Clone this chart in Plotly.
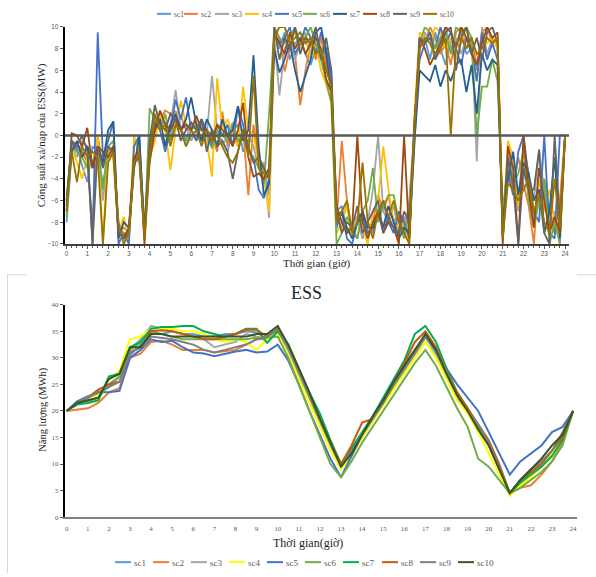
import plotly.graph_objects as go

W, H = 596, 577

names = ["sc1", "sc2", "sc3", "sc4", "sc5", "sc6", "sc7", "sc8", "sc9", "sc10"]

# time axes (15-min steps for power, 30-min steps for energy)
t_power = [i * 0.25 for i in range(97)]
t_energy = [i * 0.5 for i in range(49)]

# ---- ESS charge/discharge power (MW) ----
p_sc1 = [-8, -1.5, -1, -2.8, -4.3, -1, -1.5, -4.5, -1.5, -1, -8.5, -9, -9.5, -2.5, -1.5, -8.5, -1,
         1.5, 0.5, 1.2, -0.5, 2, 0.8, -0.5, 1.2, 0.5, 1.5, -0.8, 0.5, 0.2, -0.5, -1.5, 0.5, 1, -1.5, -0.5, 0.5, -2, -3, -5.5,
         9.5, 8, 9.5, 7, 8.5, 9, 7.5, 6.5, 8, 9, 7, 5,
         -7, -6.5, -9, -8, -7.5, -9.5, -8, -9, -7, -8.5, -6.5, -8, -9, -7.5, -9.5, -1,
         8, 9, 7, 9.5, 8, 6.5, 9, 8.5, 9.5, 7.5, 8, 6, 9, 7, 9, 8.5,
         -9, -2.5, -3, -6, -1, -3.5, -8, -5.5, -4, -7, -9, -8.5, 0]
p_sc2 = [-6.5, -0.5, -1, -1.5, -2.5, -8, 0, -3, -1, -2, -9, -8.5, -9, -3, -1, -9, -2,
         0.5, 1.5, 2.3, 2, 2.2, 1.8, 0.5, 0.5, -0.5, 1, 0.5, 0, -1.5, 2.2, -1, 0.5, -1, 0.5, -5.5, 1, -2, -3.5, -4,
         10, 9, 5.9, 8, 7.5, 2.8, 6, 8.5, 7, 9, 6.5, 4.5,
         -8, -0.5, -6, -9, -9.5, -7, -9, -8, -5.5, -7, -5.5, -8, -7, -9, -6, 0.5,
         9, 8.5, 10, 9, 7.5, 8.5, 6.5, 9.5, 10, 8, 9, 6.5, 9.5, 10, 8.5, 9,
         -8, -3, -5, -2, -4.5, -6.5, -10, -3, -5, -7, -9, -6, 0]
p_sc3 = [-6, -1, -2, -0.5, -1, -3, -0.5, -6, -2, -1.5, -8, -9.5, -8.5, -2, -2.5, -9, -0.5,
         1, 2, 0.5, 1, 4.2, 0.5, 1.2, -0.5, 0.5, 1, 0, 5.5, 0.5, -1, 0, 1.2, -1, 0.5, 0, -1, -3, -2.5, -7.6,
         9, 3.7, 8, 9, 7, 8.5, 9.5, 7.5, 9, 8, 8, 5,
         -7.5, -8.5, -6, -9, -7.5, -9.5, -8, -5, 0, -7, -8, -6.5, -9, -8, -7, 1,
         8, 9.5, 8.5, 7, 9, 10, 8, 9, 7.5, 9, 9, -2.4, 10, 7.5, 9, 8,
         -8.5, -1.5, -4, -7, -3.5, -5, -6, -1.3, -5, -9, -7, -10, 0]
p_sc4 = [-5.5, -1, -2.5, -4, -2, -3, 0, -10, -1.5, -2, -9, -7.5, -9.5, 0, -2, -8, -2,
         -0.5, 2, 0.5, -3.2, 0.5, 3.2, 1, 0.5, 1.2, 0.5, -0.5, -3.8, 5.3, 0.5, 1.5, 0, -1, 4.5, 0.5, 0, -2.5, -4, -7,
         9, 10, 10, 8.5, 9.5, 8, 9, 7, 8.5, 6, 4.7, 3,
         -9, -8, -6.5, -9.5, -7.5, -8.5, -10, -7, -6, -1, -5, -8, -8.5, -8, -10, 2,
         9.5, 9, 8.5, 10, 9.5, 8, 9, 7, 8.5, 10, 7.5, 5, 9.5, 8.5, 9, 8,
         -9, -0.5, -2, -6.5, -3, -5, -8.5, -4, -7, -5, -8, -9.5, 0]
p_sc5 = [-6.5, -0.5, -1.5, -2, -1, -10, 9.5, -2, -0.5, 1.3, -10, -9, -10, -1, 0, -9, -1,
         1.2, 0.5, -1.5, 0.5, 3.3, 1.5, 3.5, 0.5, -0.5, 1.5, 0.5, -1, 1, 0, 1, -1, 2.7, 1, -1.5, -2, -5, -5.8, -4,
         9.5, 8.5, 9, 10, 7.5, 8.5, 10, 9, 7.5, 9.5, 8, 5.5,
         -8.5, -7, -9.5, -10, -8, -7.5, -9, -8.5, -7.5, -6, -8, -9, -7, -8, -9.5, 1.5,
         7, 8.5, 9, 8, 10, 8.5, 9.5, 8, 6.5, 9, 8, 5, 9.5, 7, 8.5, 7,
         -9.5, -3.5, -5.5, -1.5, 0, -4, -7, -8, 0, -9, -9.5, 0, 0]
p_sc6 = [-7.5, -1, -1.5, -2, -3, -2.5, -1, -5, -1, -0.5, -8.5, -9, -9, -2, -1.5, -9.5, 2.5,
         1.5, 0.5, 2, -0.5, 1, 0.5, -1, 0.5, 1, -0.5, 0, -1.2, 0.5, 0, -0.5, 1, -0.5, 0, -1.5, -2, -3, -4.5, 2,
         10, 9, 8.5, 9, 10, 8.5, 9, 10, 8.5, 7, 5, 3,
         -10, -9, -7.5, -8.5, -9.5, -7, -6, -3, -8, -6.5, -5.5, -5.5, -8, -9.5, -7, 0,
         8.5, 10, 9.5, 8, 9, 9.5, 7.5, 10, 9.5, 10, 9, 0, 4.5, 4.5, 7, 5,
         -7, -2.5, -4.5, -3.5, -1.5, -6, -8.5, -6, -4, -10, -8, -10, 0]
p_sc7 = [-6, -1.5, -0.5, -2, -1, -3, -1, -2.5, 0.5, 1.3, -9.5, -8, -8.5, -3, 0, -9, -1.5,
         0.5, 1.5, -1, 1, 2, 0.5, 1.5, 3.5, 1, -0.5, 1.5, 0.5, -1, 1.5, 0, 0.5, 2.7, -0.5, 0.5, 7.4, -1, -5.5, -4.5,
         8, 5.8, 7, 8.5, 6, 4, 5.5, 7, 9.5, 10, 7.5, 4,
         -7.5, -7, -8.5, -9.5, -8, -7, -8.5, -8.5, -7, -8.5, -6.5, -8, -9.5, -8.5, -9, -0.5,
         6, 5.5, 5, 6.5, 4.5, 6, 5, 6.5, 7, 4, 6.5, 2, 7.5, 6, 7, 6.5,
         -8, -4, -1.5, -5.5, -2.5, -3.5, -6, -5, -9, -7, -2, -9.5, 0]
p_sc8 = [-7, 0.2, 0, -1, 0.7, -3, -1, -1.5, -2, -1, -9, -9.5, -8.5, -2, -1.5, -10, -2.5,
         0.5, 2.3, 1, 0.5, 1.5, 0.5, 1, 0.5, 1.8, 0.5, 0.5, -0.5, 1, 0.5, 0, -1, 0.5, 3, -2, -3.8, -3.5, -4, -3,
         9.5, 8.5, 7.5, 9.5, 8, 9, 7.5, 8.5, 9, 8, 5.2, 4,
         -6.5, -8, -9, -8.5, 0, -8, -9.5, -8, -7, -9, -8, -8.5, -10, 0, -9.5, 1,
         9, 8, 6.5, 7.5, 8.5, 10, 9.5, 8, 10, 9, 7.5, 6.5, 8.5, 10, 9, 9.5,
         -10, -1, -3, -10, 0, -5, -8.5, -3, -6, -9, -7.5, -9, 0]
p_sc9 = [-6, -0.5, -1, 0, -1.5, -10, -1, -3, -1, -1.5, -9, -9.5, -9, -2.5, -2, -9, -0.5,
         2.8, 1, 0.5, 2, 1.5, -0.5, 0.5, 1.2, 0.5, 1.5, -1.5, 0.5, -1, -0.5, -1.5, -4, -1.5, 0.5, -1, -2.5, -2, -3, -4,
         10, 7, 9, 8, 10, 7.5, 9, 8.5, 10, 7, 9, 6,
         -7, -9, -8, -8.5, -6.5, -9, -8, -7, -6, -9, -7.5, -8.5, -9, -7, -8, 0.5,
         9, 8.5, 9.5, 7, 8, 9.5, 10, 6, 9, 10, 7.5, 9, 7, 9.5, 10, 8.5,
         -9.5, -2, -4.5, -10, -3, -5, -5, -1.3, -9, -10, 0, -8, 0]
p_sc10 = [-7, -1.5, -4.3, -1, -2, -1.5, -2, -10, -2.5, -1.5, -8, -10, -9, -2.5, -1.5, -9.5, -2,
          2, 0.5, 1, -1, 1, 0.5, -1, 0, 0.5, -1, 0.5, -0.5, 0, -1, -2, -2.5, -1.5, 0.5, -2, 5.5, -3, -3.5, -4,
          9, 10, 10, 8.5, 9, 9.5, 8.5, 9, 7.5, 8, 6, 4.5,
          -8, -7, -6, -9, -8, -2.5, -8, -9.5, -7, -6, -7.5, -6, -8, -9, -10, 1,
          8, 9, 8.5, 7.5, 8, 9, 0, 8.5, 9, 8, 9, 7.5, 8, 9, 8.5, 9,
          -9.5, -4.4, -5, -6, -5, -4, -7, -5.5, -8, -9, -4, -8.5, 0]

# ---- ESS stored energy (MWh) ----
e_sc1 = [20, 21.8, 22.8, 23.2, 24.5, 26.5, 30.5, 32.5, 34.5,
         34.5, 35, 34.5, 34.5, 34, 34, 34.5, 34.5, 35, 34.8, 33.5, 35,
         31.5, 27, 22.5, 18, 13.5, 9.5,
         12, 15.5, 18.5, 21.5, 25, 28.5, 31.5, 34,
         31, 26.5, 22.5, 20, 17, 14, 9.5, 4.5,
         6.5, 8.5, 10, 12, 14.5, 20]
e_sc2 = [20, 20.2, 20.5, 21.5, 23.5, 24.3, 30, 30.8, 33,
         33.2, 32.5, 31.5, 31.5, 31.5, 31, 31.2, 31.5, 32.5, 33.5, 33.5, 35.5,
         32, 27.5, 23, 18.5, 14, 10,
         12.5, 15.5, 18.5, 21.5, 25, 28, 31, 34,
         31.5, 27, 22.5, 20, 16.5, 13.5, 9, 4.5,
         5.5, 6, 8, 10.5, 14, 20]
e_sc3 = [20, 21.5, 22, 22.5, 25, 26.5, 31.5, 33.5, 36,
         35.5, 35, 34.5, 34, 33.5, 32, 32.5, 33, 34.5, 34, 33.5, 35.5,
         31.5, 27, 22.5, 18, 13.5, 9.5,
         12, 15, 18, 21.5, 24.5, 27.5, 30.5, 33,
         30.5, 26.5, 22.5, 20, 17, 13.5, 9, 4.5,
         7, 8.5, 10.5, 12.5, 15.5, 20]
e_sc4 = [20, 21.5, 22.5, 23, 26, 27.5, 33.5, 34, 35.5,
         35.5, 35.5, 35, 35, 34.5, 33.5, 33, 33.5, 33, 31.5, 33.5, 34.5,
         30.5, 26, 21.5, 17, 12.5, 9,
         11.5, 15, 18, 21, 24, 27, 30, 33,
         30, 26, 22, 19.5, 16, 12, 8, 4,
         6, 7.5, 9.5, 12, 14.5, 20]
e_sc5 = [20, 21.8, 22.5, 23.5, 23.5, 23.8, 30, 31.5, 33.5,
         33, 33.2, 32, 31, 30.8, 30.3, 30.8, 31.2, 31.5, 31, 31.2, 32.5,
         29.5, 25, 20, 15.5, 11, 7.5,
         11.5, 15.5, 18.5, 21.5, 25, 28, 31, 34,
         31.5, 28, 25, 22.5, 20, 16, 12, 8,
         10.5, 12, 13.5, 16, 17, 20]
e_sc6 = [20, 21.5, 21.8, 22.5, 25, 26.5, 31.5, 33, 35,
         34.5, 34, 33.5, 33.5, 33.5, 33.5, 33.5, 33.5, 33.5, 33.8, 33.8, 34,
         30, 25, 20, 15, 10, 7.5,
         10.5, 14, 17, 20, 23, 26, 29, 31.5,
         28.5, 24.5, 20.5, 17, 11, 9.5, 7, 4.5,
         5.5, 7, 8.5, 10.5, 13.5, 20]
e_sc7 = [20, 21.2, 21.5, 22, 26.5, 27, 32, 33, 35.5,
         35.8, 35.8, 36, 36, 35, 34.5, 34, 34.5, 35.5, 35.5, 32.8, 35,
         32.5, 28, 23.5, 19.5, 14.5, 10,
         13, 16, 19, 22.5, 26, 29.5, 34.5, 36,
         33, 28, 23.5, 20.5, 17, 14, 9.5, 4.5,
         6.5, 8, 9.5, 11.5, 14.5, 20]
e_sc8 = [20, 21.5, 22.5, 24, 25, 25.5, 31, 32, 35,
         35.2, 35, 34.5, 34, 33.5, 33.5, 34, 34.5, 35.3, 35.3, 34, 35.5,
         32, 27.5, 23, 18.5, 14, 10,
         13.5, 17.8, 18.5, 22, 25.5, 29, 33, 35,
         32, 27.5, 23.5, 20.5, 17.5, 14.5, 10, 4.5,
         7, 8.5, 10, 12.5, 15, 20]
e_sc9 = [20, 21.5, 22.5, 23.5, 24.5, 25.5, 31, 32, 34,
         33.8, 33.5, 33, 32.5, 31.5, 31, 31.5, 32, 32.5, 33.5, 34, 35.5,
         32, 27.5, 23, 18.5, 14, 9.5,
         12.5, 15.5, 18.5, 21.5, 25, 28, 31, 34,
         31.5, 27.5, 23, 20, 17.5, 14, 9.5, 4.5,
         7, 9, 10.5, 12.5, 16, 20]
e_sc10 = [20, 21.5, 22, 22.5, 26, 27, 32, 32, 34.5,
          34.5, 34, 34, 34, 34, 34, 34, 34, 34, 34.5, 34.5, 36,
          32.5, 28, 23.5, 18.5, 14, 9.5,
          12, 15.5, 19, 22, 25.5, 28.5, 31.5, 34.5,
          31.5, 27, 23, 20, 16.5, 13.5, 9, 4.5,
          7, 9, 11, 13.5, 15.5, 20]

power = [p_sc1, p_sc2, p_sc3, p_sc4, p_sc5, p_sc6, p_sc7, p_sc8, p_sc9, p_sc10]
energy = [e_sc1, e_sc2, e_sc3, e_sc4, e_sc5, e_sc6, e_sc7, e_sc8, e_sc9, e_sc10]
for s in power:
    assert len(s) == 97, len(s)
for s in energy:
    assert len(s) == 49, len(s)

power_colors = ["#5B9BD5", "#ED7D31", "#A5A5A5", "#FFC000", "#4472C4",
                "#70AD47", "#255E91", "#9E480E", "#636363", "#997300"]
energy_colors = ["#5B9BD5", "#ED7D31", "#A5A5A5", "#FFFF00", "#4472C4",
                 "#70AD47", "#00B050", "#C55A11", "#7F7F7F", "#375623"]

SERIF = "Liberation Serif, Times New Roman, serif"
SANS = "Liberation Sans, Arial, sans-serif"


def px(x):
    return x / W


def py(y):
    return 1 - y / H


fig = go.Figure()
for n, s, c in zip(names, power, power_colors):
    fig.add_trace(go.Scatter(x=t_power, y=s, mode="lines", name=n,
                             line=dict(color=c, width=1.8), xaxis="x", yaxis="y",
                             showlegend=False))
for n, s, c in zip(names, energy, energy_colors):
    fig.add_trace(go.Scatter(x=t_energy, y=s, mode="lines", name=n,
                             line=dict(color=c, width=2), xaxis="x2", yaxis="y2",
                             showlegend=False))

hours = list(range(25))
fig.update_layout(
    width=W, height=H,
    margin=dict(l=0, r=0, t=0, b=0),
    paper_bgcolor="white", plot_bgcolor="white",
    xaxis=dict(domain=[px(64.5), px(569.2)], range=[-0.1, 24.2], anchor="y",
               tickvals=hours, ticktext=[str(h) for h in hours],
               ticks="outside", ticklen=3, tickwidth=1, tickcolor="#595959",
               minor=dict(dtick=0.25, tick0=0, ticks="outside", ticklen=2, tickcolor="#595959"),
               showline=True, linecolor="#404040", linewidth=1.5,
               showgrid=False, zeroline=False,
               tickfont=dict(family=SANS, size=6.5, color="#595959")),
    yaxis=dict(domain=[py(243.3), py(23.3)], range=[-10, 10], anchor="x",
               tickvals=list(range(-10, 11, 2)),
               ticks="outside", ticklen=3, tickwidth=1, tickcolor="#595959",
               showline=True, linecolor="#000000", linewidth=1.5,
               showgrid=False, zeroline=False,
               tickfont=dict(family=SANS, size=6.5, color="#595959")),
    xaxis2=dict(domain=[px(64.6), px(576.7)], range=[-0.1, 24.17], anchor="y2",
                tickvals=hours, ticktext=[str(h) for h in hours],
                ticks="outside", ticklen=4, tickcolor="rgba(0,0,0,0)",
                showline=True, linecolor="#808080", linewidth=2,
                showgrid=False, zeroline=False,
                tickfont=dict(family=SERIF, size=7, color="#595959")),
    yaxis2=dict(domain=[py(520.3), py(305)], range=[0, 40], anchor="x2",
                tickvals=list(range(0, 41, 5)),
                ticks="outside", ticklen=3, tickwidth=1, tickcolor="#595959",
                showline=True, linecolor="#000000", linewidth=1.5,
                showgrid=False, zeroline=False,
                tickfont=dict(family=SERIF, size=7, color="#595959")),
)

shapes = []
# zero reference line of the power chart
shapes.append(dict(type="line", xref="x", yref="y", x0=-0.1, x1=24.2, y0=0, y1=0,
                   line=dict(color="#595959", width=2.5), layer="above"))
# light frame around the lower chart
frame = dict(color="#D9D9D9", width=1)
shapes.append(dict(type="line", xref="paper", yref="paper", x0=px(7.5), x1=px(7.5),
                   y0=py(274.5), y1=py(577), line=frame))
shapes.append(dict(type="line", xref="paper", yref="paper", x0=px(7), x1=px(27),
                   y0=py(274.5), y1=py(274.5), line=frame))
shapes.append(dict(type="line", xref="paper", yref="paper", x0=px(577), x1=px(596),
                   y0=py(274.5), y1=py(274.5), line=frame))

annotations = []
# legends (drawn as swatch + text rows)
top_leg_x = [157, 184, 215, 245, 275, 303, 333, 363, 393, 423]
for n, c, x0 in zip(names, power_colors, top_leg_x):
    shapes.append(dict(type="line", xref="paper", yref="paper", x0=px(x0), x1=px(x0 + 14),
                       y0=py(10), y1=py(10), line=dict(color=c, width=2)))
    annotations.append(dict(text=n, xref="paper", yref="paper", x=px(x0 + 14.5), y=py(10.5),
                            xanchor="left", yanchor="middle", showarrow=False,
                            font=dict(family=SERIF, size=7.5, color="#595959")))
bot_leg_x = [115, 153, 191, 229, 267, 305, 343, 382, 420, 458]
for n, c, x0 in zip(names, energy_colors, bot_leg_x):
    shapes.append(dict(type="line", xref="paper", yref="paper", x0=px(x0), x1=px(x0 + 16),
                       y0=py(566), y1=py(566), line=dict(color=c, width=2)))
    annotations.append(dict(text=n, xref="paper", yref="paper", x=px(x0 + 16.5), y=py(566.5),
                            xanchor="left", yanchor="middle", showarrow=False,
                            font=dict(family=SERIF, size=9, color="#595959")))

# titles
annotations += [
    dict(text="Công suất xả/nạp của ESS(MW)", xref="paper", yref="paper",
         x=px(41.5), y=py(133.5), textangle=-90, xanchor="center", yanchor="middle",
         showarrow=False, font=dict(family=SERIF, size=11, color="#262626")),
    dict(text="Thời gian (giờ)", xref="paper", yref="paper",
         x=px(316.5), y=py(263), xanchor="center", yanchor="middle",
         showarrow=False, font=dict(family=SERIF, size=11, color="#262626")),
    dict(text="ESS", xref="paper", yref="paper",
         x=px(306.5), y=py(293), xanchor="center", yanchor="middle",
         showarrow=False, font=dict(family=SERIF, size=18, color="#262626")),
    dict(text="Thời gian(giờ)", xref="paper", yref="paper",
         x=px(308), y=py(546.7), xanchor="center", yanchor="middle",
         showarrow=False, font=dict(family=SERIF, size=12, color="#262626")),
    dict(text="Năng lượng (MWh)", xref="paper", yref="paper",
         x=px(43), y=py(411.5), textangle=-90, xanchor="center", yanchor="middle",
         showarrow=False, font=dict(family=SERIF, size=10.5, color="#262626")),
]

fig.update_layout(shapes=shapes, annotations=annotations)
fig.write_html("out.html")
